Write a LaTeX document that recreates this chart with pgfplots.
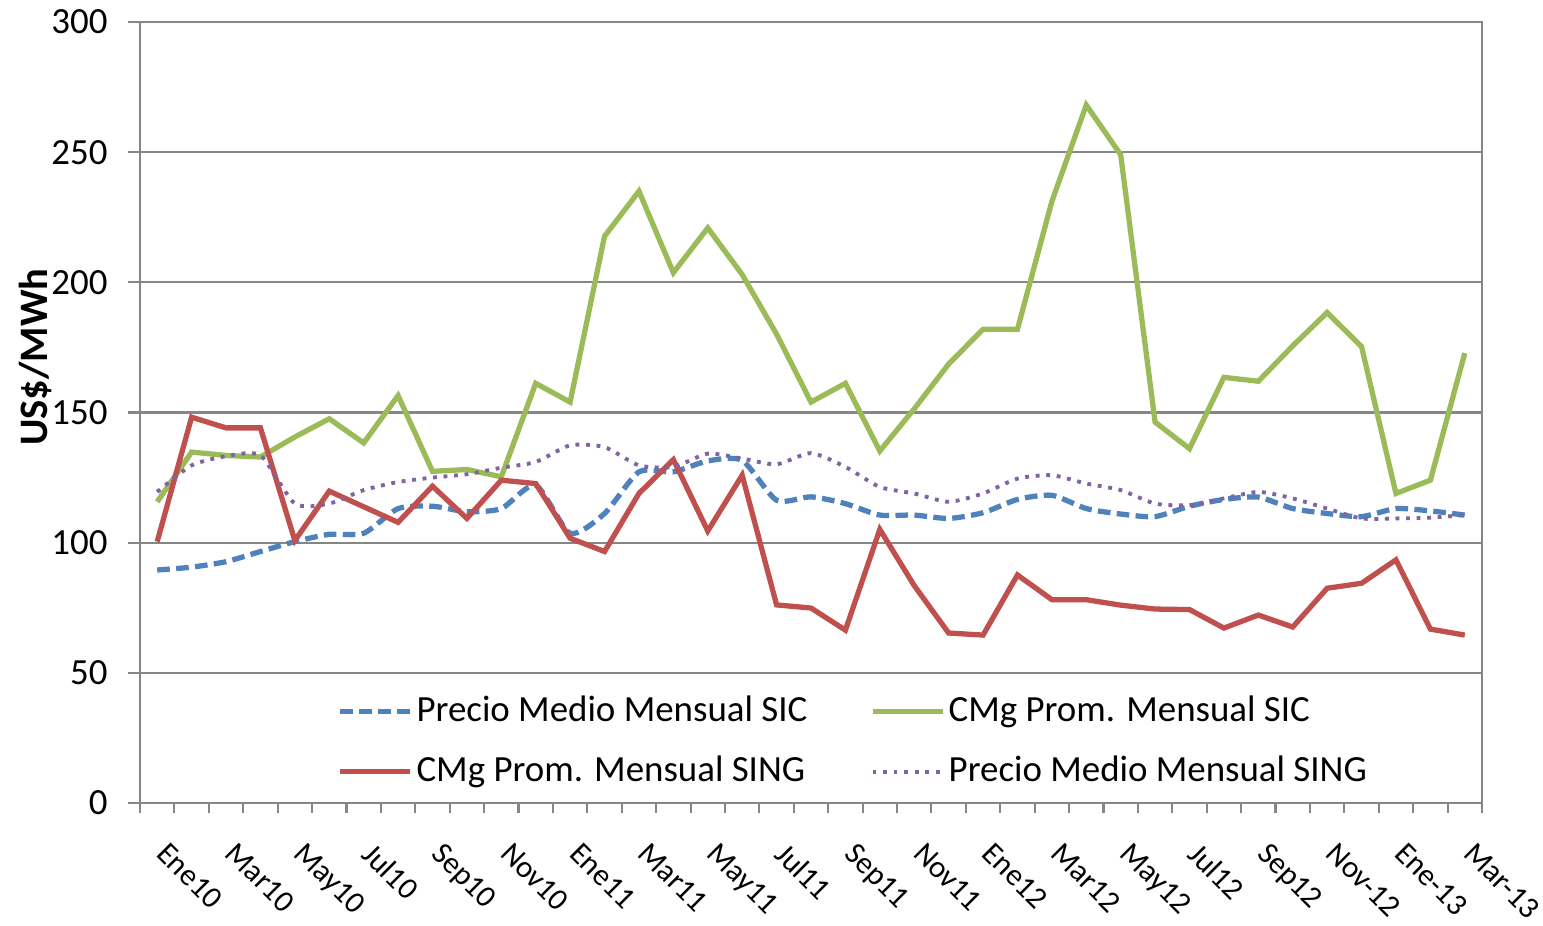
\documentclass[border=0pt]{standalone}
\usepackage{fontspec}
\setmainfont{Carlito}
\usepackage{pgfplots}
\usepackage{pgfplotstable}
\pgfplotsset{compat=1.18}

\definecolor{xblue}{HTML}{4F81BD}
\definecolor{xgreen}{HTML}{9BBB59}
\definecolor{xred}{HTML}{C0504D}
\definecolor{xpurple}{HTML}{8064A2}
\definecolor{xgrid}{HTML}{868686}

% i = month index, Ene10 = 0 ... Mar-13 = 38
\pgfplotstableread{
i  pmsic  cmgsic  cmgsing  pmsing
0  89.5   115.7   100.4    119.5
1  90.6   134.8   148.2    129.7
2  92.7   133.5   144.1    133.2
3  96.6   132.9   144.1    133.5
4  100.4  140.6   100.8    115.0
5  103.2  147.6   119.8    115.0
6  103.6  138.3   113.8    120.2
7  113.1  156.5   107.8    123.3
8  114.0  127.4   121.7    125.0
9  111.9  128.1   109.3    126.3
10 113.1  125.3   124.0    128.8
11 122.1  161.2   122.7    131.0
12 103.6  154.0   101.7    137.4
13 111.2  217.7   96.6     136.7
14 127.2  235.0   118.9    129.7
15 127.2  203.7   131.9    129.1
16 131.4  220.9   104.5    134.2
17 131.6  203.0   125.9    132.3
18 116.3  180.1   76.1     130.1
19 117.6  154.0   74.9     134.4
20 115.0  161.2   66.4     129.1
21 110.6  135.2   105.1    121.4
22 110.6  151.4   83.5     118.9
23 109.3  168.6   65.3     115.7
24 111.5  182.0   64.5     118.9
25 116.6  182.0   87.6     124.6
26 118.2  231.1   78.1     125.9
27 113.1  268.1   78.1     122.7
28 111.0  249.0   76.0     120.2
29 110.0  146.3   74.5     115.0
30 114.0  136.1   74.3     114.4
31 116.6  163.5   67.2     117.0
32 117.5  162.0   72.2     119.5
33 113.1  175.6   67.6     117.0
34 111.2  188.4   82.5     113.1
35 110.0  175.3   84.4     109.3
36 113.1  118.9   93.4     109.3
37 112.2  124.0   66.8     109.6
38 110.6  172.8   64.5     110.6
}\datos

\begin{document}
\begin{tikzpicture}
\useasboundingbox (-1.40cm,-1.23cm) rectangle (14.03cm,8.03cm);
\begin{axis}[
    at={(0,0)}, anchor=south west,
    width=13.42cm, height=7.81cm,
    scale only axis,
    xmin=-0.5, xmax=38.5,
    ymin=0, ymax=300,
    ytick={0,50,...,300},
    xtick={0,2,...,38},
    xticklabels={Ene10,Mar10,May10,Jul10,Sep10,Nov10,Ene11,Mar11,May11,Jul11,Sep11,Nov11,Ene12,Mar12,May12,Jul12,Sep12,Nov-12,Ene-13,Mar-13},
    minor xtick={-0.5,0.5,...,38.5},
    tick pos=left,
    tick align=outside,
    major tick length=0.12cm,
    minor tick length=0.1cm,
    major x tick style={draw=none},
    tick style={xgrid, line width=0.6pt},
    axis line style={xgrid, line width=0.6pt},
    ymajorgrids=true,
    grid style={xgrid, line width=0.6pt},
    /pgf/number format/assume math mode=true,
    tick label style={font=\fontsize{10.5}{12}\selectfont},
    yticklabel style={anchor=east, xshift=-0.08cm},
    xticklabel style={xshift=0.12cm, yshift=-0.25cm, rotate=-45, anchor=north west, inner sep=0pt,
        font=\fontsize{8.8}{10}\selectfont},
    ylabel={\textbf{US\$/MWh}},
    every axis y label/.style={at={(axis description cs:-0.078,0.571)}, rotate=90, anchor=center, font=\fontsize{11.5}{13}\selectfont},
    legend columns=2,
    legend style={at={(axis description cs:0.139,0.151)}, anchor=north west, draw=none, fill=none,
        font=\fontsize{10.5}{12}\selectfont, row sep=0.22cm, nodes={inner sep=1pt},
        /tikz/every even column/.append style={column sep=0.59cm}},
    legend cell align=left,
    legend image code/.code={\draw[#1] (0cm,0cm) -- (0.7cm,0cm);},
]
\addplot[xblue, line width=1.5pt, dash pattern=on 3.6pt off 1.8pt, smooth, tension=0.4] table[x=i, y=pmsic] {\datos};
\addlegendentry{Precio Medio Mensual SIC}
\addplot[xgreen, line width=1.5pt] table[x=i, y=cmgsic] {\datos};
\addlegendentry{CMg Prom. Mensual SIC}
\addplot[xred, line width=1.5pt] table[x=i, y=cmgsing] {\datos};
\addlegendentry{CMg Prom. Mensual SING}
\addplot[xpurple, line width=1.1pt, dash pattern=on 1.1pt off 1.9pt, smooth, tension=0.4] table[x=i, y=pmsing] {\datos};
\addlegendentry{Precio Medio Mensual SING}
\end{axis}
\end{tikzpicture}
\end{document}
